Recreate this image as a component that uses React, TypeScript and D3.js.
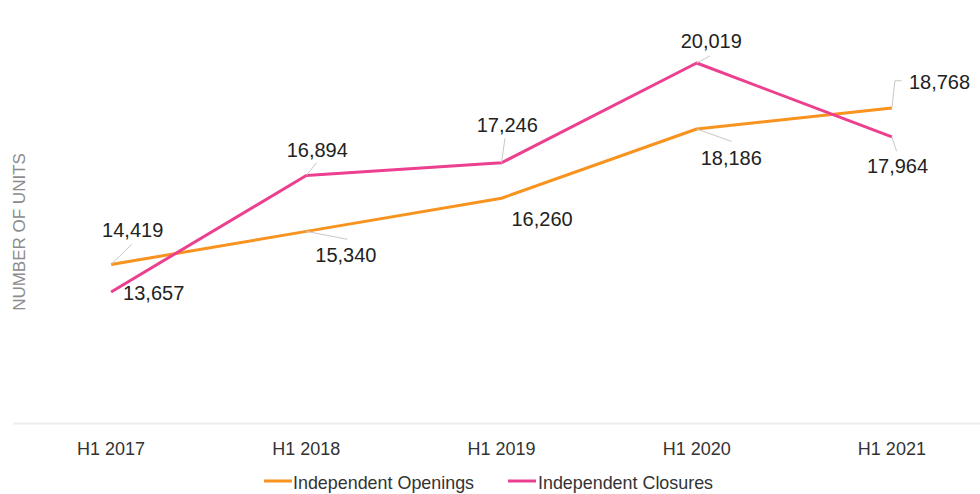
import React from "react";
import * as d3 from "d3";

const categories = ["H1 2017", "H1 2018", "H1 2019", "H1 2020", "H1 2021"];
const openings = [14419, 15340, 16260, 18186, 18768];
const closures = [13657, 16894, 17246, 20019, 17964];
const seriesNames = ["Independent Openings", "Independent Closures"];
const yAxisTitle = "NUMBER OF UNITS";

// label layout (offsets from point): text dx, dy, leader polyline offsets
const openLabelLayout = [
  { dx: -9, dy: -28, leader: [[20.7, -20.2]] },
  { dx: 9, dy: 31, leader: [[41, 7.9]] },
  { dx: 10, dy: 28, leader: [] },
  { dx: 4, dy: 36.5, leader: [[35, 12.5]] },
  { dx: 17, dy: -18.7, leader: [[3, -27.3], [9.7, -27.3]] },
];
const closeLabelLayout = [
  { dx: 12, dy: 8, leader: [] },
  { dx: -19.6, dy: -18.8, leader: [[10.4, -12.8]] },
  { dx: -24.8, dy: -31.1, leader: [[3.5, -24.5]] },
  { dx: -16, dy: -14.7, leader: [[13.2, -7]] },
  { dx: -25, dy: 36, leader: [[4.7, 14.4]] },
];

const W = 980;
const H = 494;
const ORANGE = "#F7931E";
const PINK = "#EC3F8F";
const FONT = "'Liberation Sans', Arial, Helvetica, sans-serif";

export default function App() {
  const x = d3.scalePoint<string>().domain(categories).range([13.5, 989.5]).padding(0.5);
  const y = d3.scaleLinear().domain([10000, 20000]).range([423.5, 63.7]);
  const line = d3
    .line<number>()
    .x((_, i) => x(categories[i]) as number)
    .y((d) => y(d));

  const fmt = d3.format(",");

  const renderLabels = (vals: number[], layout: typeof openLabelLayout, key: string) =>
    vals.map((v, i) => {
      const px = x(categories[i]) as number;
      const py = y(v);
      const L = layout[i];
      const pts = [[px, py], ...L.leader.map(([ax, ay]) => [px + ax, py + ay])];
      return (
        <g key={key + i}>
          {L.leader.length > 0 && (
            <polyline
              points={pts.map((p) => p.join(",")).join(" ")}
              fill="none"
              stroke="#c8c8c8"
              strokeWidth={1}
            />
          )}
          <text x={px + L.dx} y={py + L.dy} fontSize={20} fill="#222" fontFamily={FONT}>
            {fmt(v)}
          </text>
        </g>
      );
    });

  return (
    <svg
      width={W}
      height={H}
      style={{ position: "absolute", left: 0, top: 0, background: "#fff" }}
      fontFamily={FONT}
    >
      <line x1={13} x2={980} y1={y(10000)} y2={y(10000)} stroke="#eeeeee" strokeWidth={2} />
      <text
        transform={`translate(25, ${232}) rotate(-90)`}
        textAnchor="middle"
        fontSize={17}
        fill="#8c8c8c"
      >
        {yAxisTitle}
      </text>
      {categories.map((c) => (
        <text key={c} x={x(c)} y={455} textAnchor="middle" fontSize={18} fill="#333">
          {c}
        </text>
      ))}
      <path d={line(openings) || ""} fill="none" stroke={ORANGE} strokeWidth={3} strokeLinejoin="round" />
      <path d={line(closures) || ""} fill="none" stroke={PINK} strokeWidth={3} strokeLinejoin="round" />
      {renderLabels(openings, openLabelLayout, "o")}
      {renderLabels(closures, closeLabelLayout, "c")}
      <g>
        <line x1={264} x2={292} y1={481} y2={481} stroke={ORANGE} strokeWidth={3} />
        <text x={293} y={489} fontSize={17.9} fill="#333">
          {seriesNames[0]}
        </text>
        <line x1={508} x2={536} y1={481} y2={481} stroke={PINK} strokeWidth={3} />
        <text x={538} y={489} fontSize={17.9} fill="#333">
          {seriesNames[1]}
        </text>
      </g>
    </svg>
  );
}
